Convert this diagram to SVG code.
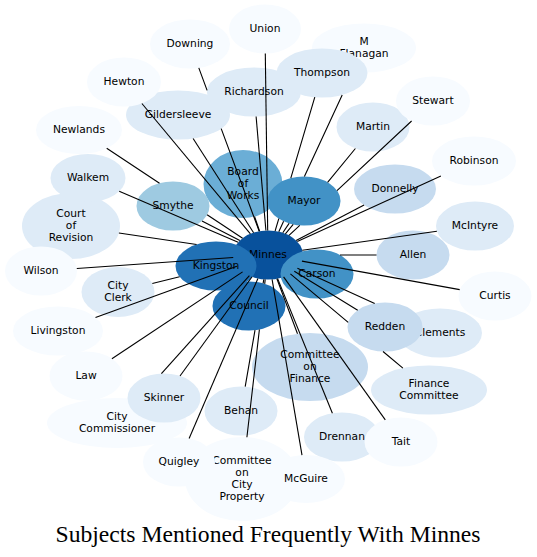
<svg xmlns="http://www.w3.org/2000/svg" width="537" height="557" viewBox="0 0 537 557">
<style>
.c0{fill:#f7fbff}.c1{fill:#deebf7}.c2{fill:#c6dbef}.c3{fill:#9ecae1}.c4{fill:#6baed6}.c5{fill:#4292c6}.c6{fill:#2171b5}.c7{fill:#08519c}
text{font-family:"DejaVu Sans","Liberation Sans",sans-serif;font-size:10.7px;text-anchor:middle;fill:#000}
.edge{fill:none;stroke:#000;stroke-width:1.1}
.title{font-family:"Liberation Serif","Times New Roman",serif;font-size:23.5px}
</style>
<rect width="537" height="557" fill="#fff"/>
<g id="nodes">
<g id="n-minnes"><ellipse class="c7" cx="268" cy="255" rx="35" ry="24.5"/><text x="268" y="258.3">Minnes</text></g>
<g id="n-council"><ellipse class="c6" cx="249" cy="306" rx="36.5" ry="24.5"/><text x="249" y="309.3">Council</text></g>
<g id="n-kingston"><ellipse class="c6" cx="216" cy="266" rx="40.5" ry="24.5"/><text x="216" y="269.3">Kingston</text></g>
<g id="n-carson"><ellipse class="c5" cx="317" cy="274" rx="36.5" ry="24.5"/><text x="317" y="277.3">Carson</text></g>
<g id="n-board-of-works"><ellipse class="c4" cx="243" cy="184" rx="39.5" ry="34"/><text x="243" y="175.2">Board</text><text x="243" y="187">of</text><text x="243" y="198.8">Works</text></g>
<g id="n-mayor"><ellipse class="c5" cx="304" cy="201" rx="36.5" ry="24.5"/><text x="304" y="204.3">Mayor</text></g>
<g id="n-smythe"><ellipse class="c3" cx="173" cy="206" rx="36.5" ry="24.5"/><text x="173" y="209.3">Smythe</text></g>
<g id="n-downing"><ellipse class="c0" cx="190" cy="44" rx="40" ry="24.5"/><text x="190" y="47.3">Downing</text></g>
<g id="n-gildersleeve"><ellipse class="c1" cx="178" cy="115" rx="52" ry="24.5"/><text x="178" y="118.3">Gildersleeve</text></g>
<g id="n-richardson"><ellipse class="c1" cx="254" cy="92" rx="47" ry="24.5"/><text x="254" y="95.3">Richardson</text></g>
<g id="n-hewton"><ellipse class="c0" cx="124" cy="82" rx="37" ry="24.5"/><text x="124" y="85.3">Hewton</text></g>
<g id="n-union"><ellipse class="c0" cx="265" cy="29" rx="36" ry="24.5"/><text x="265" y="32.3">Union</text></g>
<g id="n-m-flanagan"><ellipse class="c0" cx="364" cy="48" rx="52" ry="24.5"/><text x="364" y="45.1">M</text><text x="364" y="56.9">Flanagan</text></g>
<g id="n-thompson"><ellipse class="c1" cx="322" cy="73" rx="45.5" ry="24.5"/><text x="322" y="76.3">Thompson</text></g>
<g id="n-martin"><ellipse class="c1" cx="373" cy="127" rx="36.5" ry="24.5"/><text x="373" y="130.3">Martin</text></g>
<g id="n-stewart"><ellipse class="c0" cx="433" cy="101" rx="37" ry="24.5"/><text x="433" y="104.3">Stewart</text></g>
<g id="n-robinson"><ellipse class="c0" cx="474" cy="161" rx="42" ry="24.5"/><text x="474" y="164.3">Robinson</text></g>
<g id="n-donnelly"><ellipse class="c2" cx="395" cy="189" rx="41" ry="24.5"/><text x="395" y="192.3">Donnelly</text></g>
<g id="n-mcintyre"><ellipse class="c1" cx="475" cy="226" rx="39" ry="24.5"/><text x="475" y="229.3">McIntyre</text></g>
<g id="n-allen"><ellipse class="c2" cx="413" cy="255" rx="36.5" ry="24.5"/><text x="413" y="258.3">Allen</text></g>
<g id="n-curtis"><ellipse class="c0" cx="495" cy="296" rx="36.5" ry="24.5"/><text x="495" y="299.3">Curtis</text></g>
<g id="n-clements"><ellipse class="c1" cx="440" cy="333" rx="42" ry="24.5"/><text x="440" y="336.3">Clements</text></g>
<g id="n-redden"><ellipse class="c2" cx="385" cy="327" rx="37.5" ry="24.5"/><text x="385" y="330.3">Redden</text></g>
<g id="n-finance-committee"><ellipse class="c1" cx="429" cy="390" rx="58" ry="24.5"/><text x="429" y="387.1">Finance</text><text x="429" y="398.9">Committee</text></g>
<g id="n-committee-on-finance"><ellipse class="c2" cx="310" cy="367" rx="58" ry="34"/><text x="310" y="358.2">Committee</text><text x="310" y="370">on</text><text x="310" y="381.8">Finance</text></g>
<g id="n-drennan"><ellipse class="c1" cx="342" cy="437" rx="38" ry="24.5"/><text x="342" y="440.3">Drennan</text></g>
<g id="n-tait"><ellipse class="c0" cx="401" cy="442" rx="36.5" ry="24.5"/><text x="401" y="445.3">Tait</text></g>
<g id="n-behan"><ellipse class="c1" cx="241" cy="411" rx="36.5" ry="24.5"/><text x="241" y="414.3">Behan</text></g>
<g id="n-committee-on-city-property"><ellipse class="c0" cx="242" cy="479" rx="57" ry="42"/><text x="242" y="464.3">Committee</text><text x="242" y="476.1">on</text><text x="242" y="487.9">City</text><text x="242" y="499.7">Property</text></g>
<g id="n-mcguire"><ellipse class="c0" cx="306" cy="479" rx="39" ry="24"/><text x="306" y="482.3">McGuire</text></g>
<g id="n-quigley"><ellipse class="c0" cx="179" cy="462" rx="36" ry="24.5"/><text x="179" y="465.3">Quigley</text></g>
<g id="n-city-commissioner"><ellipse class="c0" cx="117" cy="423" rx="70" ry="25"/><text x="117" y="420.1">City</text><text x="117" y="431.9">Commissioner</text></g>
<g id="n-skinner"><ellipse class="c1" cx="164" cy="398" rx="36.5" ry="24.5"/><text x="164" y="401.3">Skinner</text></g>
<g id="n-law"><ellipse class="c0" cx="86" cy="376" rx="36.5" ry="24.5"/><text x="86" y="379.3">Law</text></g>
<g id="n-livingston"><ellipse class="c0" cx="58" cy="331" rx="45" ry="24.5"/><text x="58" y="334.3">Livingston</text></g>
<g id="n-city-clerk"><ellipse class="c1" cx="118" cy="292" rx="36.5" ry="25"/><text x="118" y="289.1">City</text><text x="118" y="300.9">Clerk</text></g>
<g id="n-court-of-revision"><ellipse class="c1" cx="71" cy="226" rx="49" ry="33"/><text x="71" y="217.2">Court</text><text x="71" y="229">of</text><text x="71" y="240.8">Revision</text></g>
<g id="n-wilson"><ellipse class="c0" cx="41" cy="271" rx="36" ry="24.5"/><text x="41" y="274.3">Wilson</text></g>
<g id="n-walkem"><ellipse class="c1" cx="88" cy="178" rx="37.5" ry="24"/><text x="88" y="181.3">Walkem</text></g>
<g id="n-newlands"><ellipse class="c0" cx="79" cy="130" rx="43" ry="24"/><text x="79" y="133.3">Newlands</text></g>
</g>
<g id="connectors">
<path class="edge" d="M267.7,230.5 L265.3,53.5"/>
<path class="edge" d="M198.8,67.9 L207.1,90.4 M221.2,128.6 L259.2,231.3"/>
<path class="edge" d="M141.9,103.5 L250.4,233.8"/>
<path class="edge" d="M193.1,138.5 L253.6,232.7"/>
<path class="edge" d="M256.1,116.5 L265.9,230.5"/>
<path class="edge" d="M342.2,94.9 L304.4,176.6 M283.6,221.3 L278.8,231.7"/>
<path class="edge" d="M314.8,97.2 L290.8,178.1 M278.8,218.7 L275.1,231"/>
<path class="edge" d="M411.6,121 L337,190.6 M299.8,225.3 L289,235.4"/>
<path class="edge" d="M355.4,148.5 L327.6,182.4 M293.2,224.3 L285.4,233.8"/>
<path class="edge" d="M297.3,241.6 L440.9,176.1"/>
<path class="edge" d="M296.1,240.4 L364.1,205.1"/>
<path class="edge" d="M302.3,250.2 L436.9,231.3"/>
<path class="edge" d="M340,255 L376.5,255"/>
<path class="edge" d="M301.9,261.1 L459.7,289.6"/>
<path class="edge" d="M297.4,268.3 L374.7,303.4"/>
<path class="edge" d="M294.3,271.2 L357.7,310.2"/>
<path class="edge" d="M290.4,273.8 L348.2,322.3 M383,351.5 L402.9,368.1"/>
<path class="edge" d="M283.6,276.9 L385.3,419.9"/>
<path class="edge" d="M277.6,278.6 L332.4,413.3"/>
<path class="edge" d="M272.1,279.3 L302,455.1"/>
<path class="edge" d="M276.9,278.7 L297.5,333.8"/>
<path class="edge" d="M246.9,437.2 L259.4,329.5 M264.7,283.9 L265.2,279.4"/>
<path class="edge" d="M245.2,386.7 L255,330.2 M263.1,283.4 L263.8,279.3"/>
<path class="edge" d="M257.9,278.5 L189.1,438.5"/>
<path class="edge" d="M252.1,276.8 L180,376"/>
<path class="edge" d="M249.4,275.7 L161.4,373.6"/>
<path class="edge" d="M242.6,271.9 L111.9,358.8"/>
<path class="edge" d="M236.9,266.3 L95.5,317.4"/>
<path class="edge" d="M179.6,276.8 L152.3,283.5"/>
<path class="edge" d="M233.2,257.5 L76.8,268.5"/>
<path class="edge" d="M196.6,244.5 L118.9,233"/>
<path class="edge" d="M238.1,242.2 L119.2,191.3"/>
<path class="edge" d="M106.7,148.3 L159.5,183.2 M207.1,214.7 L242.6,238.2"/>
<path class="edge" d="M239.8,240.5 L202,220.9"/>
<path class="edge" d="M259.6,231.2 L254.5,216.5"/>
<path class="edge" d="M282.8,232.8 L289.1,223.4"/>
</g>
<text class="title" x="268" y="542" textLength="425" lengthAdjust="spacingAndGlyphs">Subjects Mentioned Frequently With Minnes</text>
</svg>
